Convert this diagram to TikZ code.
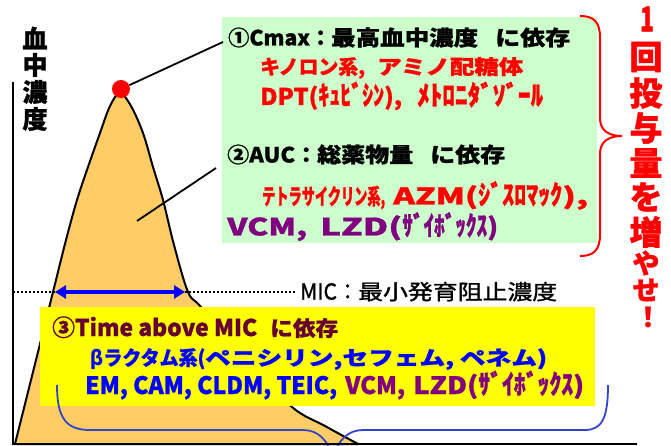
\documentclass[tikz,border=0pt]{standalone}
\usepackage{fontspec}
\usepackage{graphicx}
\setmainfont{Noto Sans CJK JP}[BoldFeatures={FakeBold=1}]
\newfontfamily\medfont{Noto Sans CJK JP}[FakeBold=1.2]
\usetikzlibrary{arrows.meta}
\definecolor{greenbg}{HTML}{CCFFCC}
\definecolor{orangefill}{HTML}{FFCC66}
\definecolor{ybg}{HTML}{FFFF00}
\definecolor{darkmaroon}{HTML}{660033}
\definecolor{purp}{HTML}{800080}
\definecolor{bblue}{HTML}{0000FF}
\definecolor{bracecol}{HTML}{3344CC}
\newcommand\seg[3]{\resizebox{#1pt}{\height}{\fontsize{#2pt}{#2pt}\selectfont #3}}
\begin{document}
\begin{tikzpicture}[x=1pt,y=-1pt,
  txt/.style={anchor=base west, inner sep=0pt, font=\bfseries},
  vlabel/.style={inner sep=0pt, font=\fontsize{25pt}{25pt}\selectfont\bfseries},
  redv/.style={inner sep=0pt, text=red, font=\fontsize{33pt}{33pt}\selectfont\bfseries},
  redvs/.style={inner sep=0pt, text=red, font=\fontsize{27pt}{27pt}\selectfont\bfseries},
  curve/.style={draw=black, line width=2pt, fill=orangefill, line join=round},
  pointer/.style={draw=black, line width=1.8pt},
  axisline/.style={draw=black, line width=2pt},
  micline/.style={draw=black, line width=2.6pt, dash pattern=on 2.2pt off 1.8pt},
  dblarrow/.style={draw=bblue, line width=3.5pt, {Triangle[length=11pt,width=13pt]}-{Triangle[length=11pt,width=13pt]}},
  redbrace/.style={draw=red, line width=2pt},
  bluebrace/.style={draw=bracecol, line width=1.8pt},
  panel/.style={inner sep=0pt, anchor=north west}]
\useasboundingbox (0,0) rectangle (671,446);
\fill[white] (0,0) rectangle (671,446);

% concentration curve
\path[curve] plot[smooth, tension=0.55] coordinates {(15,444) (34,368) (53,292) (66,240) (77,200) (88,167) (100,133) (110,106) (120,93) (131,106) (143,133) (153,167) (163,200) (174,245) (188,292) (201,307) (245,358) (292,407) (325,426) (358,444)} -- cycle;

% green panel
\node[panel, fill=greenbg, minimum width=375pt, minimum height=226pt] (green) at (222,17) {};

% pointers
\node[circle, fill=red, minimum size=18pt, inner sep=0pt] (peak) at (121,89) {};
\coordinate (c1) at (223,42);
\coordinate (p2a) at (137,221);
\coordinate (p2b) at (216,168);
\draw[pointer] (peak) -- (c1);
\draw[pointer] (p2a) -- (p2b);

% MIC line and arrow
\coordinate (micL) at (13,292);
\coordinate (micR) at (296,292);
\draw[micline] (micL) -- (micR);
\coordinate (aL) at (55,292);
\coordinate (aR) at (185,292);
\draw[dblarrow] (aL) -- (aR);

% yellow panel
\node[panel, fill=ybg, minimum width=555pt, minimum height=99pt] (yellow) at (40,307) {};

% blue brace (clipped at bottom)
\begin{scope}
\clip (0,0) rectangle (671,446);
\coordinate (bb1) at (57,385);
\coordinate (bb2) at (608,385);
\draw[bluebrace] (bb1) .. controls (57,418) and (66,430) .. (90,430) -- (303,430)
  .. controls (318,430) and (328,440) .. (333,458)
  .. controls (338,440) and (348,430) .. (363,430) -- (585,430)
  .. controls (602,430) and (608,418) .. (bb2);
\end{scope}

% red brace
\coordinate (rb1) at (580,16);
\coordinate (rb2) at (580,256);
\draw[redbrace] (rb1) .. controls (594,16) and (600,22) .. (600,38) -- (600,118)
  .. controls (600,130) and (608,136) .. (622,136)
  .. controls (608,136) and (600,142) .. (600,154) -- (600,234)
  .. controls (600,250) and (594,256) .. (rb2);

% axes
\coordinate (O) at (13,444);
\coordinate (ytop) at (13,82);
\coordinate (xend) at (637,444);
\draw[axisline] (ytop) -- (O) -- (xend);

% y label
\foreach \ch/\yy [count=\i] in {血/38,中/65,濃/92,度/119}
  \node[vlabel] (yl\i) at (35,\yy) {\ch};

% red vertical text
\node[redv, font=\fontsize{34pt}{34pt}\selectfont\bfseries] (v0) at (647,19) {\resizebox{14pt}{\height}{1}};
\foreach \ch/\yy [count=\i] in {回/57,投/93,与/128,量/163,を/197,増/232}
  \node[redv] (v\i) at (646,\yy) {\ch};
\node[redvs] (v7) at (646,263) {や};
\node[redvs] (v8) at (646,290) {せ};
\node[redvs] (v9) at (648,317) {！};

% green panel texts
\node[txt] (t1) at (228,45.5) {\seg{103}{21}{①Cmax：}\seg{147}{21}{最高血中濃度}\hspace{17pt}\seg{75}{21}{に依存}};
\node[txt, text=red] (t2) at (260,74.2) {\seg{105}{20}{キノロン系,}\hspace{12pt}\seg{146}{20}{アミノ配糖体}};
\node[txt, text=red] (t3) at (260,105) {\seg{58}{23}{DPT(}\seg{66}{27}{ｷｭﾋﾞｼﾝ}\seg{18}{23}{),}\hspace{15pt}\seg{126}{27}{ﾒﾄﾛﾆﾀﾞｿﾞｰﾙ}};
\node[txt] (t4) at (227,162.5) {\seg{90}{21}{②AUC：}\seg{96}{21}{総薬物量}\hspace{17pt}\seg{75}{21}{に依存}};
\node[txt, text=red] (t5) at (262,204.5) {\seg{123}{22}{テトラサイクリン系,}\hspace{8pt}\seg{85}{23}{AZM(}\seg{84}{27}{ｼﾞｽﾛﾏｯｸ}\seg{26}{23}{),}};
\node[txt, text=purp] (t6) at (227,235.5) {\seg{80}{24}{VCM,}\hspace{13pt}\seg{82}{24}{LZD(}\seg{85}{27}{ｻﾞｲﾎﾞｯｸｽ}\seg{11}{24}{)}};

% MIC label
\node[txt, font=\medfont] (mic) at (300,299.6) {\seg{58}{22}{MIC：}\seg{199}{21}{最小発育阻止濃度}};

% yellow panel texts
\node[txt, text=darkmaroon] (t7) at (52,336) {\seg{205}{23}{③Time above MIC}\hspace{13pt}\seg{68}{21}{に依存}};
\node[txt, text=bblue] (t8) at (90,365.2) {\seg{115}{20}{\textit{β}ラクタム系(}\seg{342}{20}{ペニシリン,セフェム, ペネム)}};
\node[txt, text=bblue] (t9) at (85,394) {\seg{252}{24}{EM, CAM, CLDM, TEIC,}\hspace{8pt}\textcolor{purp}{\seg{60}{24}{VCM,}\hspace{8pt}\seg{65}{24}{LZD(}\seg{95}{27}{ｻﾞｲﾎﾞｯｸｽ}\seg{11}{24}{)}}};
\end{tikzpicture}
\end{document}
